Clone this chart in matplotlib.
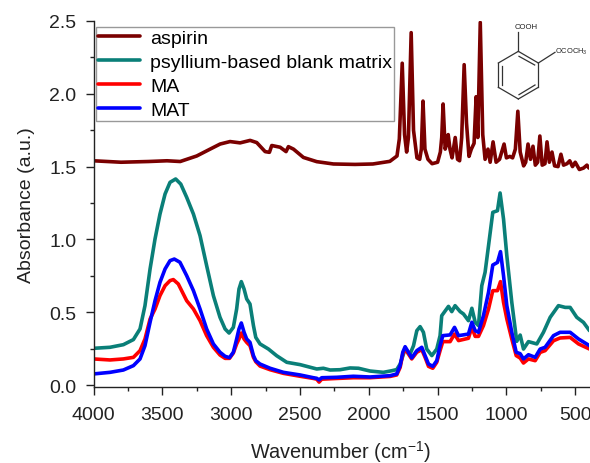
import matplotlib
matplotlib.use("Agg")
import matplotlib.pyplot as plt
from matplotlib.lines import Line2D
from matplotlib.ticker import MultipleLocator

plt.rcParams['font.family'] = ['Liberation Sans', 'DejaVu Sans']
plt.rcParams['mathtext.default'] = 'regular'

# ---- data ----
aspirin_x = [4000,3800,3600,3466,3370,3250,3153,3080,3008,2935,2862,2814,2753,2722,2705,2644,2601,2584,2547,2475,2378,2257,2100,1970,1847,1795,1778,1757,1740,1725,1712,1692,1675,1650,1630,1618,1606,1592,1570,1540,1500,1480,1470,1460,1445,1432,1423,1410,1395,1372,1355,1340,1325,1307,1290,1272,1255,1235,1220,1208,1190,1172,1155,1134,1118,1097,1075,1050,1017,1000,975,955,935,917,900,875,860,843,825,807,790,773,757,740,720,705,688,669,650,625,604,585,560,540,520,500,470,440,415,400]
aspirin_y = [1.54,1.53,1.535,1.54,1.535,1.573,1.62,1.655,1.672,1.663,1.68,1.665,1.603,1.598,1.645,1.633,1.603,1.637,1.62,1.563,1.534,1.518,1.515,1.518,1.536,1.573,1.69,2.21,1.72,1.60,1.70,2.42,1.75,1.56,1.55,1.62,1.95,1.62,1.55,1.52,1.53,1.60,1.70,1.93,1.62,1.66,1.72,1.62,1.56,1.70,1.55,1.54,1.70,2.20,1.80,1.57,1.62,1.66,1.98,1.70,2.49,1.72,1.55,1.62,1.53,1.67,1.53,1.55,1.655,1.56,1.57,1.56,1.62,1.88,1.60,1.505,1.53,1.655,1.55,1.64,1.51,1.53,1.71,1.51,1.52,1.67,1.53,1.60,1.505,1.50,1.585,1.51,1.52,1.54,1.50,1.53,1.48,1.49,1.51,1.49]

teal_x = [4000,3880,3783,3710,3662,3626,3589,3553,3517,3480,3444,3403,3366,3323,3274,3226,3178,3129,3081,3044,3015,2984,2960,2943,2926,2906,2887,2863,2838,2821,2790,2729,2669,2596,2499,2378,2330,2281,2209,2136,2075,1991,1894,1833,1797,1772,1736,1700,1675,1651,1627,1603,1579,1542,1506,1482,1470,1421,1397,1373,1336,1312,1276,1251,1227,1203,1179,1155,1130,1099,1065,1046,1021,997,961,925,900,876,840,779,731,682,622,573,537,489,440,396]
teal_y = [0.252,0.259,0.277,0.312,0.385,0.545,0.797,1.003,1.174,1.312,1.392,1.415,1.380,1.289,1.174,1.026,0.820,0.614,0.465,0.385,0.357,0.396,0.522,0.659,0.710,0.659,0.591,0.556,0.408,0.327,0.282,0.247,0.201,0.156,0.140,0.110,0.115,0.103,0.105,0.117,0.115,0.096,0.087,0.098,0.106,0.144,0.247,0.213,0.270,0.373,0.401,0.362,0.247,0.202,0.247,0.339,0.476,0.540,0.504,0.545,0.504,0.488,0.442,0.527,0.431,0.408,0.682,0.774,0.957,1.186,1.197,1.319,1.140,0.888,0.568,0.300,0.343,0.247,0.298,0.282,0.362,0.465,0.545,0.533,0.533,0.465,0.430,0.373]

blue_x = [4000,3880,3783,3710,3662,3626,3589,3553,3517,3480,3444,3413,3372,3323,3274,3226,3178,3129,3081,3044,3012,2984,2960,2943,2926,2906,2887,2863,2838,2821,2790,2717,2620,2499,2402,2378,2361,2342,2233,2112,1991,1845,1797,1772,1753,1736,1712,1688,1651,1615,1591,1566,1535,1506,1482,1462,1409,1377,1348,1276,1251,1227,1203,1167,1130,1099,1065,1043,1021,997,961,929,900,876,840,791,755,719,658,610,537,476,396]
blue_y = [0.076,0.087,0.103,0.133,0.179,0.270,0.431,0.579,0.705,0.797,0.854,0.865,0.843,0.751,0.648,0.522,0.385,0.282,0.225,0.197,0.188,0.225,0.316,0.385,0.426,0.362,0.316,0.293,0.202,0.167,0.144,0.115,0.087,0.069,0.050,0.046,0.035,0.050,0.053,0.060,0.055,0.064,0.076,0.133,0.225,0.263,0.225,0.186,0.236,0.259,0.202,0.144,0.128,0.167,0.270,0.339,0.344,0.396,0.339,0.350,0.431,0.373,0.362,0.476,0.637,0.824,0.842,0.916,0.751,0.545,0.362,0.225,0.215,0.179,0.208,0.190,0.247,0.259,0.339,0.362,0.362,0.316,0.270]

red_x = [4000,3880,3783,3710,3662,3626,3589,3553,3517,3480,3444,3420,3384,3323,3274,3226,3178,3129,3081,3044,3012,2984,2960,2943,2926,2906,2887,2863,2838,2821,2790,2717,2620,2499,2402,2378,2361,2342,2233,2112,1991,1845,1797,1772,1753,1736,1712,1688,1651,1615,1591,1566,1535,1506,1482,1462,1409,1377,1348,1276,1251,1227,1203,1167,1130,1099,1065,1043,1021,997,961,929,900,876,840,791,755,719,658,610,537,476,396]
red_y = [0.179,0.172,0.179,0.190,0.236,0.316,0.453,0.522,0.614,0.682,0.717,0.724,0.694,0.579,0.522,0.442,0.339,0.259,0.206,0.183,0.183,0.220,0.282,0.316,0.357,0.316,0.293,0.270,0.190,0.160,0.130,0.105,0.080,0.060,0.045,0.040,0.020,0.040,0.045,0.050,0.050,0.059,0.069,0.121,0.213,0.247,0.213,0.179,0.225,0.243,0.190,0.128,0.115,0.156,0.236,0.298,0.298,0.350,0.305,0.321,0.396,0.334,0.334,0.408,0.522,0.648,0.648,0.710,0.568,0.454,0.316,0.202,0.185,0.151,0.179,0.167,0.224,0.236,0.304,0.323,0.327,0.282,0.247]

labels = ['aspirin', 'psyllium-based blank matrix', 'MA', 'MAT']
colors = ['#7a0000', '#0a7f78', '#ff0000', '#0000ff']

W, H = 590, 464
fig = plt.figure(figsize=(W/100, H/100), dpi=100, facecolor='white')
ax = fig.add_axes([93.5/W, 1-388/H, (589-93.5)/W, (388-22)/H])
kw = dict(lw=2.6, solid_joinstyle='round', solid_capstyle='round')
ax.plot(aspirin_x, aspirin_y, color=colors[0], label=labels[0], **kw)
ax.plot(teal_x, teal_y, color=colors[1], label=labels[1], **kw)
ax.plot(red_x, red_y, color=colors[2], label=labels[2], **kw)
ax.plot(blue_x, blue_y, color=colors[3], label=labels[3], **kw)

ax.set_xlim(4000, 400)
ax.set_ylim(-0.0137, 2.5)
for s in ('top', 'right'):
    ax.spines[s].set_visible(False)
for s in ('left', 'bottom'):
    ax.spines[s].set_linewidth(1.0)
    ax.spines[s].set_color('#222222')
ax.xaxis.set_major_locator(MultipleLocator(500))
ax.xaxis.set_minor_locator(MultipleLocator(250))
ax.yaxis.set_major_locator(MultipleLocator(0.5))
ax.yaxis.set_minor_locator(MultipleLocator(0.25))
ax.tick_params(which='major', length=5.5, width=1, labelsize=14, labelcolor='#222222', color='#222222')
ax.tick_params(which='minor', length=3, width=1, color='#222222')
ax.yaxis.set_tick_params(which='major', pad=7)
ax.xaxis.set_tick_params(which='major', pad=8)
ax.set_xlabel('Wavenumber (cm$^{-1}$)', fontsize=14.3, color='#222222')
ax.xaxis.set_label_coords((340-93.5)/(589-93.5), -(465-388)/(388-22), transform=ax.transAxes)
ax.xaxis.label.set_va('bottom')
ax.set_ylabel('Absorbance (a.u.)', fontsize=14, color='#222222')
ax.yaxis.set_label_coords(-(93.5-35)/(589-93.5), (388-205)/(388-22))

ax.legend(loc='upper left', bbox_to_anchor=((96-93.5)/(589-93.5), 1-(28-22)/(388-22)),
          fontsize=14.0, frameon=True, fancybox=False, framealpha=1, edgecolor='#999999',
          handlelength=2.18, handletextpad=0.5, labelspacing=0.34, borderpad=0.1, borderaxespad=0)

# aspirin structure, drawn in pixel positions of the figure
def px(x, y):
    return x/W, 1-y/H
def seg(x0, y0, x1, y1):
    a, b = px(340+x0/3, y0/3), px(340+x1/3, y1/3)
    fig.add_artist(Line2D([a[0], b[0]], [a[1], b[1]], color='#333333', lw=0.9))
ring = [(535,157),(595,192),(595,265),(535,300),(475,265),(475,192)]
for i in range(6):
    seg(*ring[i], *ring[(i+1) % 6])
seg(487,200,487,258); seg(537,172,584,198); seg(537,287,585,258)
seg(535,157,535,100); seg(595,192,645,160)
t = px(340+560/3, 83/3)
fig.text(t[0], t[1], 'COOH', fontsize=5.6, ha='center', va='center', color='#222222')
t = px(340+645/3, 157/3)
fig.text(t[0], t[1], 'OCOCH$_3$', fontsize=5.4, ha='left', va='center', color='#222222')

fig.savefig('out.png', dpi=100)
